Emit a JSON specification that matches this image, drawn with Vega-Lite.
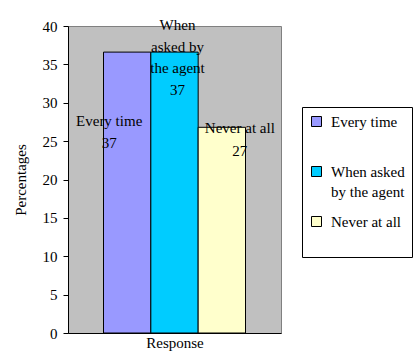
{
  "$schema": "https://vega.github.io/schema/vega-lite/v6.json",
  "width": 213,
  "height": 307,
  "autosize": {"type": "none"},
  "padding": {"left": 68, "top": 26, "right": 135, "bottom": 27},
  "background": "white",
  "config": {
    "font": "Liberation Serif",
    "view": {"fill": "#C0C0C0", "stroke": "#808080", "strokeWidth": 1}
  },
  "data": {
    "values": [
      {"series": "Every time", "value": 36.6, "lines": ["Every time", "37"]},
      {"series": "When asked by the agent", "value": 36.6, "lines": ["When", "asked by", "the agent", "37"]},
      {"series": "Never at all", "value": 26.8, "lines": ["Never at all", "27"]}
    ]
  },
  "encoding": {
    "x": {
      "field": "series",
      "type": "nominal",
      "sort": ["Every time", "When asked by the agent", "Never at all"],
      "scale": {"paddingInner": 0, "paddingOuter": 0.75},
      "axis": {
        "title": "Response",
        "labels": false,
        "ticks": false,
        "domainColor": "black",
        "titleFontSize": 15,
        "titleFontWeight": "normal",
        "titleColor": "black",
        "titlePadding": 2,
        "titleFont": "Liberation Serif"
      }
    },
    "y": {
      "field": "value",
      "type": "quantitative",
      "scale": {"domain": [0, 40]},
      "axis": {
        "title": "Percentages",
        "values": [0, 5, 10, 15, 20, 25, 30, 35, 40],
        "grid": false,
        "tickColor": "black",
        "tickSize": 5,
        "domainColor": "black",
        "labelFontSize": 15,
        "labelColor": "black",
        "labelPadding": 6,
        "labelFont": "Liberation Serif",
        "titleFontSize": 15,
        "titleFontWeight": "normal",
        "titleColor": "black",
        "titleFont": "Liberation Serif",
        "titlePadding": 14
      }
    }
  },
  "layer": [
    {
      "mark": {"type": "bar", "stroke": "black", "strokeWidth": 1},
      "encoding": {
        "color": {
          "field": "series",
          "type": "nominal",
          "sort": ["Every time", "When asked by the agent", "Never at all"],
          "scale": {"range": ["#9999FF", "#00CCFF", "#FFFFCC"]},
          "legend": {
            "title": null,
            "orient": "none",
            "legendX": 234,
            "legendY": 81,
            "strokeColor": "black",
            "fillColor": "white",
            "padding": 7,
            "symbolType": "square",
            "symbolSize": 100,
            "symbolStrokeColor": "black",
            "symbolStrokeWidth": 1,
            "symbolOpacity": 1,
            "labelFontSize": 15,
            "labelFont": "Liberation Serif",
            "labelColor": "black",
            "labelOffset": 7,
            "labelLimit": 200,
            "rowPadding": 14,
            "labelExpr": "datum.label == 'When asked by the agent' ? ['When asked', 'by the agent'] : [datum.label, ' ']",
            "encode": {
              "labels": {
                "update": {
                  "lineHeight": {"value": 20}
                }
              }
            }
          }
        }
      }
    },
    {
      "transform": [{"filter": "datum.series === 'Every time'"}],
      "mark": {"type": "text", "font": "Liberation Serif", "baseline": "top", "dx": -18, "dy": 62, "lineHeight": 21.5, "fontSize": 15, "color": "black"},
      "encoding": {"text": {"field": "lines"}}
    },
    {
      "transform": [{"filter": "datum.series === 'When asked by the agent'"}],
      "mark": {"type": "text", "font": "Liberation Serif", "baseline": "top", "dx": 3, "dy": -34, "lineHeight": 21.5, "fontSize": 15, "color": "black"},
      "encoding": {"text": {"field": "lines"}}
    },
    {
      "transform": [{"filter": "datum.series === 'Never at all'"}],
      "mark": {"type": "text", "font": "Liberation Serif", "baseline": "top", "dx": 18, "dy": -6, "lineHeight": 23, "fontSize": 15, "color": "black"},
      "encoding": {"text": {"field": "lines"}}
    }
  ]
}
